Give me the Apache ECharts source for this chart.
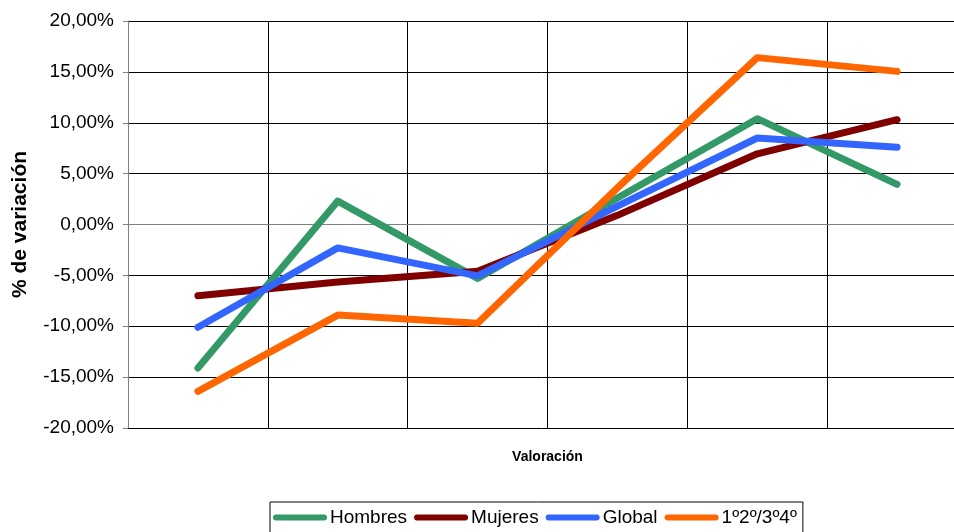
<!DOCTYPE html>
<html>
<head>
<meta charset="utf-8">
<script src="https://cdn.jsdelivr.net/npm/echarts@6/dist/echarts.min.js"></script>
<style>
  html, body { margin: 0; padding: 0; background: #fff; }
  #chart { width: 954px; height: 532px; }
</style>
</head>
<body>
<div id="chart"></div>
<script>
// Categories of the "Valoración" axis (labels are not shown)
const categories = ['1', '2', '3', '4', '5', '6'];

// Percentage variation per group
const hombres  = [-14.1, 2.3, -5.3, 2.6, 10.4, 3.95];
const mujeres  = [-7.0, -5.65, -4.6, 0.9, 6.95, 10.3];
const globalV  = [-10.1, -2.3, -5.05, 1.8, 8.5, 7.6];
const cursos   = [-16.4, -8.9, -9.7, 3.6, 16.4, 15.05];

// Y axis range and step (percent)
const yMin = -20, yMax = 20, yStep = 5;

const seriesNames = ['Hombres', 'Mujeres', 'Global', '1º2º/3º4º'];
const seriesColors = ['#339966', '#800000', '#3366FF', '#FF6600'];
const seriesData = [hombres, mujeres, globalV, cursos];

const font = "'Liberation Sans', Arial, sans-serif";
const pill = 'path://M3,0 L51,0 A3,3 0 0 1 51,6 L3,6 A3,3 0 0 1 3,0 Z';

const chart = echarts.init(document.getElementById('chart'), null, { renderer: 'canvas' });

chart.setOption({
  animation: false,
  backgroundColor: '#fff',
  textStyle: { fontFamily: font, color: '#000' },
  grid: {
    left: 128, top: 21, bottom: 104, right: -13,
    containLabel: false,
    outerBoundsMode: 'none'
  },
  legend: {
    data: seriesNames.map(n => ({ name: n, icon: pill })),
    left: 270,
    top: 502,
    orient: 'horizontal',
    borderColor: '#000',
    borderWidth: 1,
    padding: [6, 6, 12, 3],
    itemGap: 7,
    itemWidth: 54,
    itemHeight: 6,
    textStyle: { fontFamily: font, fontSize: 19, color: '#000', padding: [0, 0, 0, -2] }
  },
  xAxis: {
    type: 'category',
    data: categories,
    boundaryGap: true,
    name: 'Valoración',
    nameLocation: 'middle',
    nameGap: 22,
    nameTextStyle: { fontFamily: font, fontSize: 14, fontWeight: 'bold', color: '#000' },
    axisLine: { show: true, lineStyle: { color: '#808080', width: 1 } },
    axisTick: { show: false },
    axisLabel: { show: false },
    splitLine: { show: true, interval: 0, lineStyle: { color: '#000', width: 1 } }
  },
  yAxis: {
    type: 'value',
    min: yMin,
    max: yMax,
    interval: yStep,
    name: '% de variación',
    nameLocation: 'middle',
    nameRotate: 90,
    nameGap: 97,
    nameTextStyle: { fontFamily: font, fontSize: 21, fontWeight: 'bold', color: '#000' },
    axisLine: { show: true, lineStyle: { color: '#808080', width: 1 } },
    axisTick: { show: true, inside: false, length: 5, lineStyle: { color: '#808080' } },
    axisLabel: {
      fontFamily: font,
      fontSize: 19,
      color: '#000',
      margin: 14,
      formatter: v => v.toFixed(2).replace('.', ',') + '%'
    },
    splitLine: { show: true, lineStyle: { color: '#000', width: 1 } }
  },
  series: seriesNames.map((name, i) => ({
    name: name,
    type: 'line',
    data: seriesData[i],
    symbol: 'none',
    color: seriesColors[i],
    lineStyle: { width: 7, color: seriesColors[i], cap: 'round', join: 'round' }
  }))
});
</script>
</body>
</html>
